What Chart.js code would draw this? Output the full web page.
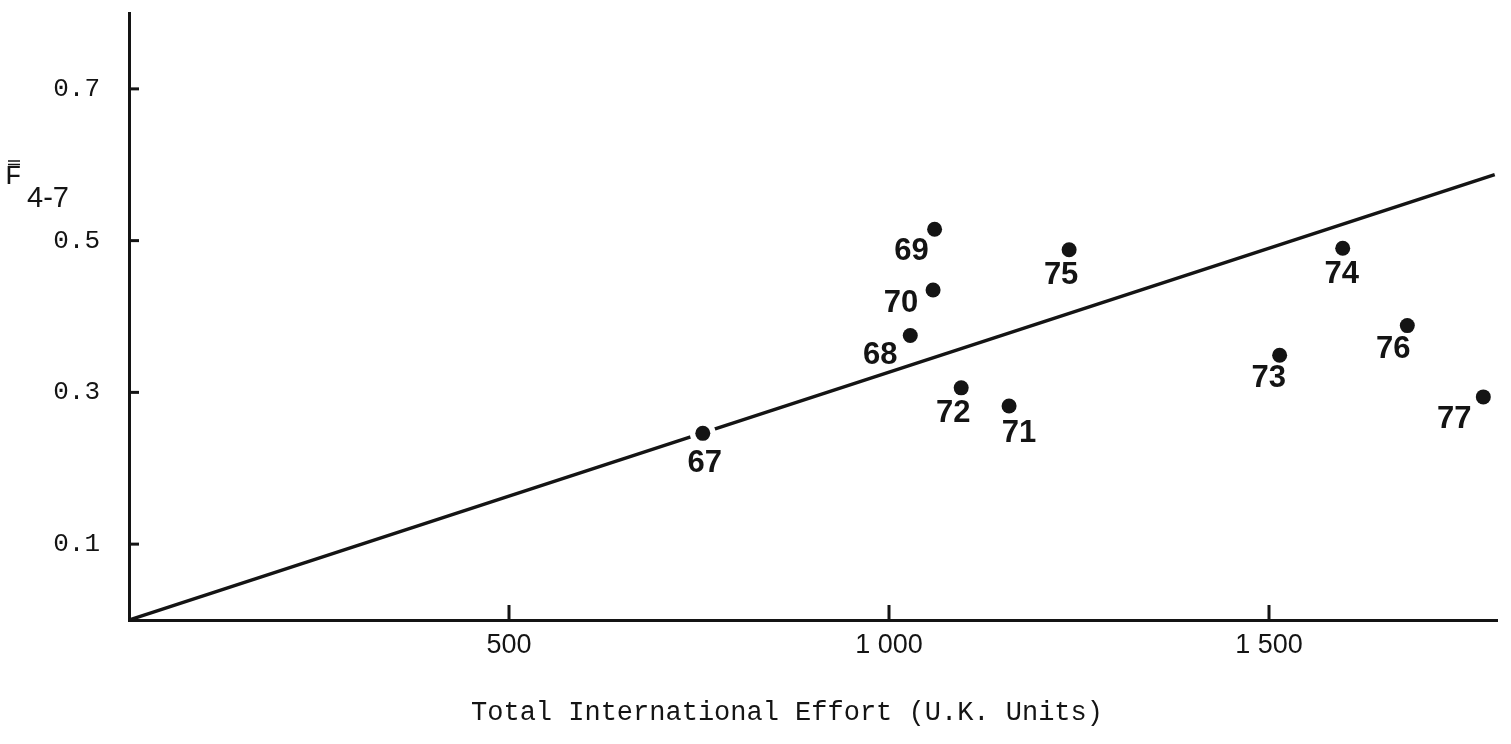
<!DOCTYPE html>
<html><head><meta charset="utf-8">
<script src="https://cdn.jsdelivr.net/npm/chart.js@4/dist/chart.umd.min.js"></script>
<style>html,body{margin:0;padding:0;background:#fff;overflow:hidden}#wrap{width:1511px;height:744px;position:relative}canvas{display:block}</style>
</head><body><div id="wrap"><canvas id="c" width="1511" height="744" style="width:1511px;height:744px"></canvas></div>
<script>
// ---- data ----
const yearLabels = ['67','68','69','70','71','72','73','74','75','76','77'];
const effortValues = [755, 1028, 1060, 1058, 1158, 1095, 1514, 1597, 1237, 1682, 1782];
const fValues = [0.246, 0.375, 0.515, 0.435, 0.282, 0.306, 0.349, 0.490, 0.488, 0.388, 0.294];
const fitLineX = [0, 1797];
const fitLineY = [0, 0.587];
const xTickValues = [500, 1000, 1500];
const xTickLabels = ['500', '1 000', '1 500'];
const yTickValues = [0.1, 0.3, 0.5, 0.7];
const yTickLabels = ['0.1', '0.3', '0.5', '0.7'];
const xAxisTitle = 'Total International Effort (U.K. Units)';
const yAxisSymbol = 'F';
const yAxisSubscript = '4-7';

// ---- styling (label offsets in px) ----
const labelOffsets = {
  '67': [2, 29], '68': [-30, 19], '69': [-23, 21], '70': [-32, 13], '71': [10, 26],
  '72': [-8, 25], '73': [-11, 22], '74': [-1, 25], '75': [-8, 25], '76': [-14, 23], '77': [-29, 22]
};
const INK = '#141414';

const points = effortValues.map((x, i) => ({x: x, y: fValues[i]}));
const fitPoints = fitLineX.map((x, i) => ({x: x, y: fitLineY[i]}));

const decorPlugin = {
  id: 'decor',
  afterDatasetsDraw(chart) {
    const ctx = chart.ctx;
    const xs = chart.scales.x, ys = chart.scales.y;
    const area = chart.chartArea;
    ctx.save();
    ctx.strokeStyle = INK;
    ctx.lineWidth = 3;
    xTickValues.forEach(v => {
      const px = xs.getPixelForValue(v);
      ctx.beginPath(); ctx.moveTo(px, area.bottom); ctx.lineTo(px, area.bottom - 15); ctx.stroke();
    });
    yTickValues.forEach(v => {
      const py = ys.getPixelForValue(v);
      ctx.beginPath(); ctx.moveTo(area.left, py); ctx.lineTo(area.left + 10, py); ctx.stroke();
    });
    const meta = chart.getDatasetMeta(0);
    ctx.fillStyle = INK;
    ctx.font = 'bold 31px "Liberation Sans", Arial, sans-serif';
    ctx.textAlign = 'center';
    ctx.textBaseline = 'middle';
    meta.data.forEach((el, i) => {
      const lab = yearLabels[i];
      const off = labelOffsets[lab] || [0, 25];
      ctx.fillText(lab, el.x + off[0], el.y + off[1] + 1);
    });
    // x axis title
    ctx.font = '27px "Liberation Mono", monospace';
    ctx.fillText(xAxisTitle, 787, 713);
    // y axis symbol
    ctx.textAlign = 'left';
    ctx.textBaseline = 'alphabetic';
    ctx.font = '28px "Liberation Mono", monospace';
    ctx.fillText(yAxisSymbol, 5, 184);
    ctx.lineWidth = 1.5;
    ctx.beginPath(); ctx.moveTo(8, 161); ctx.lineTo(20, 161); ctx.stroke();
    ctx.beginPath(); ctx.moveTo(8, 164.5); ctx.lineTo(20, 164.5); ctx.stroke();
    ctx.font = '29px "Liberation Sans", Arial, sans-serif';
    ctx.fillText(yAxisSubscript, 27, 207);
    ctx.restore();
  }
};

new Chart(document.getElementById('c'), {
  type: 'scatter',
  data: {
    datasets: [
      { type: 'scatter', data: points, pointRadius: 7.5, pointBackgroundColor: INK, pointBorderWidth: 0, order: 0 },
      { type: 'scatter', data: points, pointRadius: 13, pointBackgroundColor: '#ffffff', pointBorderWidth: 0, order: 1 },
      { type: 'line', data: fitPoints, borderColor: INK, borderWidth: 3.5, pointRadius: 0, fill: false, order: 2 }
    ]
  },
  options: {
    responsive: false,
    animation: false,
    events: [],
    devicePixelRatio: 1,
    layout: { padding: { top: 8, right: 14, left: 0, bottom: 0 } },
    plugins: { legend: { display: false }, tooltip: { enabled: false } },
    scales: {
      x: {
        type: 'linear', min: 0, max: 1800, position: 'bottom',
        grid: { display: true, drawOnChartArea: false, drawTicks: false },
        border: { display: true, width: 3, color: INK },
        afterBuildTicks: s => { s.ticks = xTickValues.map(v => ({value: v})); },
        afterFit: s => { s.height = 124; s.paddingLeft = 0; s.paddingRight = 0; },
        ticks: {
          padding: 9, color: INK, maxRotation: 0,
          font: { family: '"Liberation Sans", Arial, sans-serif', size: 27 },
          callback: v => xTickLabels[xTickValues.indexOf(v)]
        },
        title: { display: false }
      },
      y: {
        type: 'linear', min: 0, max: 0.8,
        grid: { display: true, drawOnChartArea: false, drawTicks: false },
        border: { display: true, width: 3, color: INK },
        afterBuildTicks: s => { s.ticks = yTickValues.map(v => ({value: v})); },
        afterFit: s => { s.width = 129; s.paddingTop = 0; s.paddingBottom = 0; },
        ticks: {
          padding: 29, color: INK,
          font: { family: '"Liberation Mono", monospace', size: 26 },
          callback: v => yTickLabels[yTickValues.indexOf(v)]
        }
      }
    }
  },
  plugins: [decorPlugin]
});
</script></body></html>
